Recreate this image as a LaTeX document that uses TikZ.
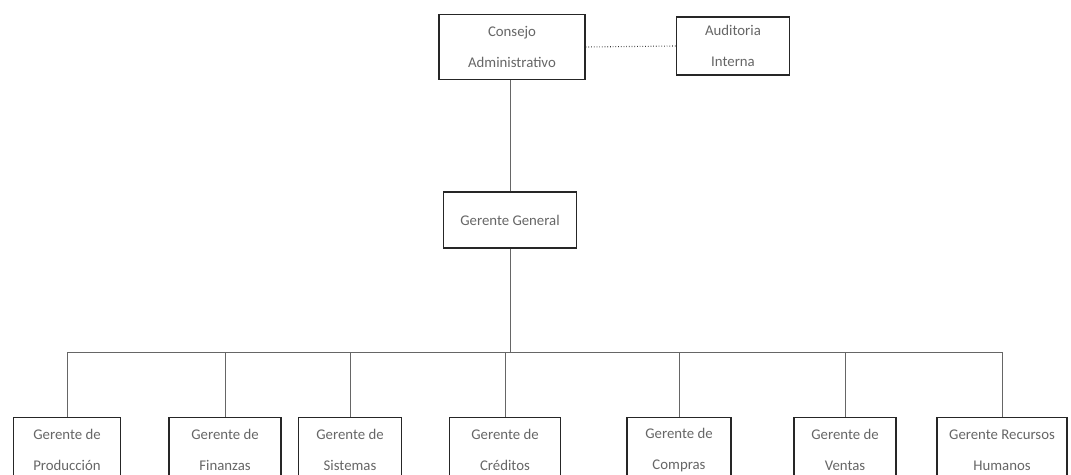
\documentclass[tikz,border=0pt]{standalone}
\usepackage{fontspec}
\setmainfont{Carlito}
\tikzset{
  cargo/.style={draw=black!85, line width=1.5pt, fill=white, align=center,
    text=black!60, inner sep=0pt, minimum height=65pt,
    font=\fontsize{14.8}{31}\selectfont},
  linea/.style={draw=black!60, line width=0.7pt},
}
\begin{document}
\begin{tikzpicture}[x=1pt,y=-1pt]
    \useasboundingbox (0,0) rectangle (1071,474);
    \clip (0,0) rectangle (1071,474);
    % direccion
    \node[cargo,minimum width=146pt] (consejo) at (512,47) {Consejo\\Administrativo};
    \node[cargo,minimum width=113pt,minimum height=58pt] (auditoria) at (733,46) {Auditoria\\Interna};
    \node[cargo,minimum width=133pt,minimum height=56pt] (general) at (510,220) {Gerente General};
    % gerencias
    \node[cargo,minimum width=107pt] (produccion) at (67,450) {Gerente de\\Producción};
    \node[cargo,minimum width=112pt] (finanzas) at (225,450) {Gerente de\\Finanzas};
    \node[cargo,minimum width=103pt] (sistemas) at (350,450) {Gerente de\\Sistemas};
    \node[cargo,minimum width=111pt] (creditos) at (505,450) {Gerente de\\Créditos};
    \node[cargo,minimum width=104pt] (compras) at (679,450) {Gerente de\\Compras};
    \node[cargo,minimum width=102pt] (ventas) at (845,450) {Gerente de\\Ventas};
    \node[cargo,minimum width=130pt] (rrhh) at (1002,450) {Gerente Recursos\\Humanos};
    \coordinate (bus) at (510,352);
    % lineas
    \draw[linea,draw=black!80,dotted,line width=1.1pt] (consejo.east) -- (auditoria.west);
    \draw[linea] (general.north) -- (general.north |- consejo.south);
    \draw[linea] (general.south) -- (bus);
    \draw[linea] (produccion.north |- bus) -- (rrhh.north |- bus);
    \foreach \g in {produccion,finanzas,sistemas,creditos,compras,ventas,rrhh}
        \draw[linea] (\g.north) -- (\g.north |- bus);
\end{tikzpicture}
\end{document}
